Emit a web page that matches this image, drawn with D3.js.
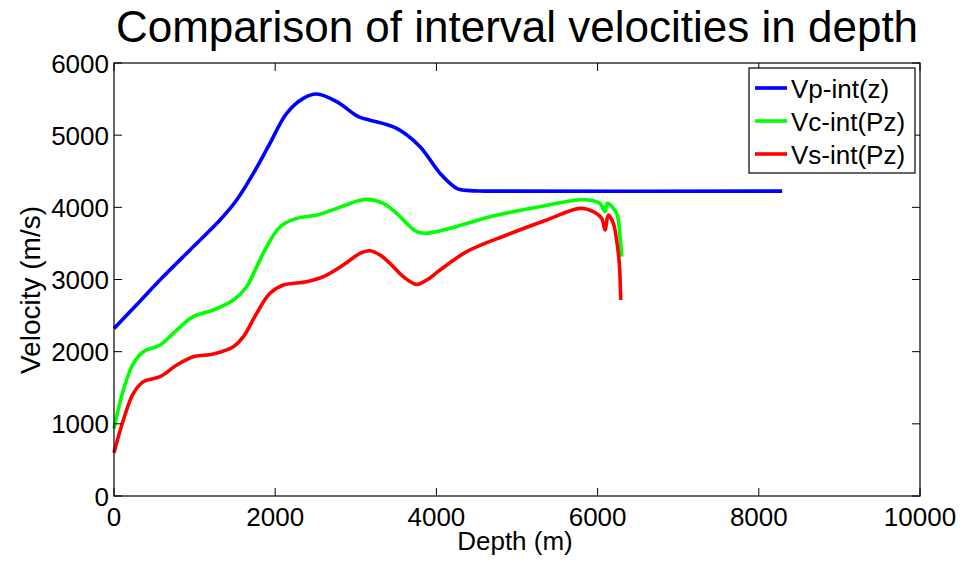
<!DOCTYPE html>
<html>
<head>
<meta charset="utf-8">
<script src="https://cdn.jsdelivr.net/npm/d3@7"></script>
<style>
  body { margin: 0; background: #fff; }
  text { font-family: "Liberation Sans", Arial, sans-serif; fill: #000; }
</style>
</head>
<body>
<div id="chart"></div>
<script>
// chart values

let xTicks = [0, 2000, 4000, 6000, 8000, 10000];
let yTicks = [0, 1000, 2000, 3000, 4000, 5000, 6000];

let vpDepth = [0, 323, 612, 943, 1315, 1522, 1729, 1935, 2142, 2349, 2515, 2763, 3031, 3176,
               3507, 3797, 4045, 4252, 4417, 4600, 8290];
let vpVel   = [2320, 2700, 3040, 3410, 3824, 4101, 4471, 4887, 5303, 5510, 5570, 5464, 5256, 5208,
               5094, 4841, 4471, 4264, 4231, 4225, 4225];

let vcDepth = [0, 116, 240, 364, 571, 778, 984, 1233, 1481, 1646, 1770, 1873, 2060, 2266, 2515,
               2763, 3031, 3135, 3342, 3507, 3631, 3755, 3859, 4169, 4665, 5285, 5782, 5950, 6030,
               6092, 6121, 6236, 6278, 6299];
let vcVel   = [935, 1469, 1838, 2000, 2092, 2300, 2485, 2577, 2716, 2900, 3177, 3409, 3731, 3847, 3893,
               3986, 4090, 4110, 4055, 3917, 3778, 3663, 3640, 3709, 3870, 4009, 4105, 4090, 4055,
               3940, 4055, 3917, 3593, 3316];

let vsDepth = [0, 116, 240, 364, 571, 778, 984, 1233, 1481, 1605, 1770, 1935, 2101, 2390, 2597,
               2845, 3052, 3176, 3300, 3424, 3590, 3755, 3880, 4045, 4376, 4872, 5368, 5782, 5947,
               6051, 6092, 6133, 6195, 6236, 6269, 6287];
let vsVel   = [600, 1053, 1423, 1584, 1653, 1815, 1930, 1968, 2069, 2208, 2531, 2809, 2924, 2969, 3039,
               3201, 3363, 3399, 3340, 3224, 3039, 2933, 2993, 3131, 3386, 3617, 3824, 3986, 3940,
               3847, 3686, 3894, 3778, 3547, 3224, 2716];

let seriesNames  = ["Vp-int(z)", "Vc-int(Pz)", "Vs-int(Pz)"];
let seriesColors = ["#0000ff", "#00ff00", "#ff0000"];

////////////////////////////////////////////////////////////////////////
// layout

let width = 963, height = 563;
let axLeft = 114, axRight = 920, axTop = 63, axBottom = 496;
let tickLen = 8;

let xScale = d3.scaleLinear().domain([0, 10000]).range([axLeft, axRight]);
let yScale = d3.scaleLinear().domain([0, 6000]).range([axBottom, axTop]);

let svg = d3.select("#chart").append("svg")
  .attr("width", width)
  .attr("height", height);

function zipSeries(xs, ys) {
  return xs.map(function(x, i) { return { x: x, y: ys[i] }; });
}

let series = [
  zipSeries(vpDepth, vpVel),
  zipSeries(vcDepth, vcVel),
  zipSeries(vsDepth, vsVel)
];

// curves
let line = d3.line()
  .x(function(d) { return xScale(d.x); })
  .y(function(d) { return yScale(d.y); })
  .curve(d3.curveCatmullRom.alpha(0.5));

svg.append("g")
  .selectAll("path")
  .data(series)
  .enter()
  .append("path")
  .attr("d", line)
  .attr("fill", "none")
  .attr("stroke", function(d, i) { return seriesColors[i]; })
  .attr("stroke-width", 3.6)
  .attr("stroke-linejoin", "round");

// axes box with inward ticks on all four sides (matlab style)
let axes = svg.append("g");

axes.append("rect")
  .attr("x", axLeft).attr("y", axTop)
  .attr("width", axRight - axLeft).attr("height", axBottom - axTop)
  .attr("fill", "none")
  .attr("stroke", "#000")
  .attr("stroke-width", 1.2);

xTicks.forEach(function(t) {
  let x = xScale(t);
  axes.append("line").attr("x1", x).attr("x2", x).attr("y1", axBottom).attr("y2", axBottom - tickLen)
    .attr("stroke", "#000");
  axes.append("line").attr("x1", x).attr("x2", x).attr("y1", axTop).attr("y2", axTop + tickLen)
    .attr("stroke", "#000");
  axes.append("text")
    .attr("x", x).attr("y", axBottom + 30)
    .attr("text-anchor", "middle")
    .attr("font-size", 26)
    .text(t);
});

yTicks.forEach(function(t) {
  let y = yScale(t);
  axes.append("line").attr("x1", axLeft).attr("x2", axLeft + tickLen).attr("y1", y).attr("y2", y)
    .attr("stroke", "#000");
  axes.append("line").attr("x1", axRight).attr("x2", axRight - tickLen).attr("y1", y).attr("y2", y)
    .attr("stroke", "#000");
  axes.append("text")
    .attr("x", axLeft - 5).attr("y", y + 9.5)
    .attr("text-anchor", "end")
    .attr("font-size", 26)
    .text(t);
});

// labels
svg.append("text")
  .attr("x", 517).attr("y", 42)
  .attr("text-anchor", "middle")
  .attr("font-size", 44)
  .text("Comparison of interval velocities in depth");

svg.append("text")
  .attr("x", 515).attr("y", 550)
  .attr("text-anchor", "middle")
  .attr("font-size", 26)
  .text("Depth (m)");

svg.append("text")
  .attr("transform", "translate(40,290) rotate(-90)")
  .attr("text-anchor", "middle")
  .attr("font-size", 28)
  .text("Velocity (m/s)");

// legend
let legend = svg.append("g");
legend.append("rect")
  .attr("x", 749).attr("y", 68)
  .attr("width", 166).attr("height", 105)
  .attr("fill", "#fff")
  .attr("stroke", "#000")
  .attr("stroke-width", 1.2);

seriesNames.forEach(function(name, i) {
  let y = 88 + i * 33;
  legend.append("line")
    .attr("x1", 755).attr("x2", 787).attr("y1", y).attr("y2", y)
    .attr("stroke", seriesColors[i])
    .attr("stroke-width", 3.6);
  legend.append("text")
    .attr("x", 791).attr("y", y + 9.5)
    .attr("font-size", 26)
    .text(name);
});
</script>
</body>
</html>
